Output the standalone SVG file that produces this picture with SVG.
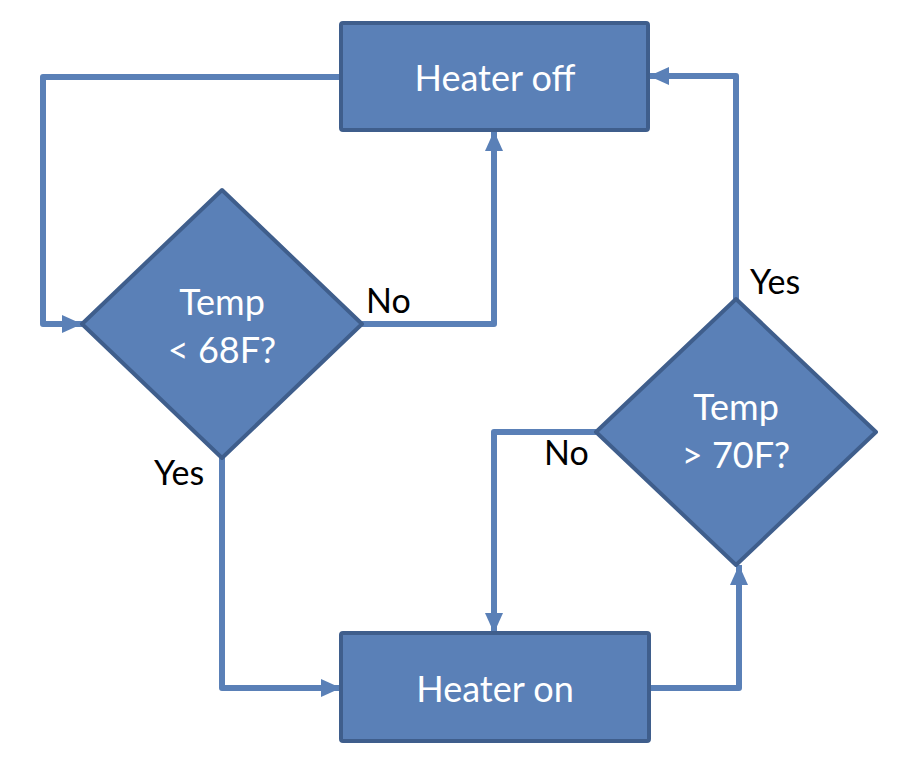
<svg xmlns="http://www.w3.org/2000/svg" width="900" height="768" viewBox="0 0 900 768">
<style>
.node{fill:#5A80B7;stroke:#3F5E8C;stroke-width:4;stroke-linejoin:round}
.lbl{font-family:Lato,"Open Sans","Liberation Sans",sans-serif;font-size:36px;fill:#fff;text-anchor:middle}
.edge{fill:none;stroke:#5A80B7;stroke-width:6;stroke-linejoin:round}
.elbl{font-family:Lato,"Open Sans","Liberation Sans",sans-serif;font-size:34px;fill:#000}
</style>
<defs>
<marker id="arr" markerUnits="userSpaceOnUse" markerWidth="22" markerHeight="20" refX="20" refY="10" orient="auto">
<path d="M0,1 L20,10 L0,19 Z" fill="#5A80B7"/>
</marker>
</defs>
<rect width="900" height="768" fill="#fff"/>
<g id="connectors">
<path class="edge" d="M341,77 H43 V324 H82" marker-end="url(#arr)"/>
<path class="edge" d="M362,324 H494 V131" marker-end="url(#arr)"/>
<path class="edge" d="M222,458 V688 H341" marker-end="url(#arr)"/>
<path class="edge" d="M649,688 H739 V565" marker-end="url(#arr)"/>
<path class="edge" d="M736,299 V76 H649" marker-end="url(#arr)"/>
<path class="edge" d="M596,432 H494 V633" marker-end="url(#arr)"/>
<text class="elbl" x="366" y="313">No</text>
<text class="elbl" x="154" y="485">Yes</text>
<text class="elbl" x="750" y="294">Yes</text>
<text class="elbl" x="544" y="465">No</text>
</g>
<g id="heater-off">
<rect class="node" x="341" y="23" width="307" height="107" rx="2"/>
<text class="lbl" x="495" y="91">Heater off</text>
</g>
<g id="temp-low">
<polygon class="node" points="222,190 362,324 222,458 82,324"/>
<text class="lbl" x="222" y="315">Temp</text>
<text class="lbl" x="222" y="363">&lt; 68F?</text>
</g>
<g id="temp-high">
<polygon class="node" points="736,299 876,432 736,565 596,432"/>
<text class="lbl" x="736" y="420">Temp</text>
<text class="lbl" x="736" y="468">&gt; 70F?</text>
</g>
<g id="heater-on">
<rect class="node" x="341" y="633" width="308" height="108" rx="2"/>
<text class="lbl" x="495" y="702">Heater on</text>
</g>
</svg>
